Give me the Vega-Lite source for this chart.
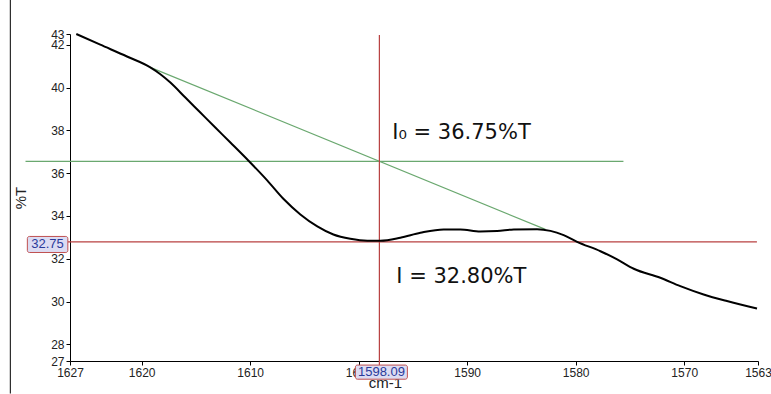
{
  "$schema": "https://vega.github.io/schema/vega-lite/v6.json",
  "width": 688,
  "height": 327,
  "autosize": {"type": "none"},
  "padding": {"left": 70, "top": 34, "right": 13, "bottom": 33},
  "background": "white",
  "config": {"view": {"stroke": null}},
  "encoding": {
    "x": {
      "field": "x", "type": "quantitative",
      "scale": {"domain": [1563.2, 1626.6], "reverse": true, "nice": false, "zero": false},
      "axis": {
        "title": "cm-1", "titleFont": "Liberation Sans", "titleFontSize": 15, "titleFontWeight": "normal",
        "titleColor": "#222", "titleX": 315, "titleY": 14, "titleBaseline": "top",
        "values": [1563.2, 1570, 1580, 1590, 1600, 1610, 1620, 1626.6],
        "format": "d",
        "labelExpr": "datum.value > 1626 ? '1627' : datum.value < 1564 ? '1563' : datum.label",
        "labelFont": "Liberation Sans", "labelFontSize": 12, "labelColor": "#222",
        "domainColor": "#000", "tickColor": "#000", "tickSize": 4, "labelPadding": 2,
        "grid": false, "labelFlush": false, "labelOverlap": false
      }
    },
    "y": {
      "field": "y", "type": "quantitative",
      "scale": {"domain": [27.22, 42.5], "nice": false, "zero": false},
      "axis": {
        "title": "%T", "titleFont": "Liberation Sans", "titleFontSize": 15, "titleFontWeight": "normal",
        "titleColor": "#222", "titlePadding": 22,
        "values": [27.22, 28, 30, 32, 34, 36, 38, 40, 42, 42.5],
        "labelExpr": "datum.value < 27.5 ? '27' : datum.value > 42.4 ? '43' : datum.label",
        "labelFont": "Liberation Sans", "labelFontSize": 12, "labelColor": "#222",
        "domainColor": "#000", "tickColor": "#000", "tickSize": 4, "labelPadding": 2,
        "grid": false, "labelFlush": false, "labelOverlap": false
      }
    }
  },
  "layer": [
    {
      "data": {"values": [{"x": 1632.1, "y": 44.1, "y2": 25.7}]},
      "mark": {"type": "rule", "color": "#000", "strokeWidth": 1},
      "encoding": {"y2": {"field": "y2"}}
    },
    {
      "data": {"values": [{"x": 1630.7, "x2": 1575.6, "y": 36.55}]},
      "mark": {"type": "rule", "color": "#6aa86f", "strokeWidth": 1.2},
      "encoding": {"x2": {"field": "x2"}}
    },
    {
      "data": {"values": [{"x": 1619.2, "y": 40.94, "x2": 1582.79, "y2": 33.37}]},
      "mark": {"type": "rule", "color": "#6aa86f", "strokeWidth": 1.2},
      "encoding": {"x2": {"field": "x2"}, "y2": {"field": "y2"}}
    },
    {
      "data": {"values": [{"x": 1626.8, "x2": 1563.3, "y": 32.79}]},
      "mark": {"type": "rule", "color": "#b84040", "strokeWidth": 1.2},
      "encoding": {"x2": {"field": "x2"}}
    },
    {
      "data": {"values": [{"x": 1598.09, "y": 42.45, "y2": 26.99}]},
      "mark": {"type": "rule", "color": "#b84040", "strokeWidth": 1.2},
      "encoding": {"y2": {"field": "y2"}}
    },
    {
      "data": {"values": [
        {"x": 1626.02, "y": 42.5}, {"x": 1623.81, "y": 42.0}, {"x": 1621.35, "y": 41.45},
        {"x": 1619.2, "y": 40.94}, {"x": 1618.27, "y": 40.62}, {"x": 1617.35, "y": 40.23},
        {"x": 1615.97, "y": 39.53}, {"x": 1614.59, "y": 38.83}, {"x": 1613.21, "y": 38.13},
        {"x": 1611.82, "y": 37.43}, {"x": 1610.17, "y": 36.59}, {"x": 1608.41, "y": 35.65},
        {"x": 1606.94, "y": 34.8}, {"x": 1605.37, "y": 34.07}, {"x": 1603.81, "y": 33.51},
        {"x": 1602.33, "y": 33.13}, {"x": 1600.77, "y": 32.93}, {"x": 1599.2, "y": 32.84},
        {"x": 1598.0, "y": 32.84}, {"x": 1596.16, "y": 32.98}, {"x": 1594.31, "y": 33.21},
        {"x": 1592.17, "y": 33.37}, {"x": 1590.63, "y": 33.37}, {"x": 1588.79, "y": 33.27},
        {"x": 1587.24, "y": 33.29}, {"x": 1585.71, "y": 33.37}, {"x": 1583.56, "y": 33.38},
        {"x": 1582.33, "y": 33.3}, {"x": 1581.11, "y": 33.1}, {"x": 1579.87, "y": 32.79},
        {"x": 1577.72, "y": 32.35}, {"x": 1576.18, "y": 31.97}, {"x": 1574.65, "y": 31.53},
        {"x": 1572.2, "y": 31.11}, {"x": 1570.36, "y": 30.72}, {"x": 1568.21, "y": 30.33},
        {"x": 1566.06, "y": 30.02}, {"x": 1563.29, "y": 29.67}
      ]},
      "mark": {"type": "line", "color": "#000", "strokeWidth": 2, "interpolate": "monotone"}
    },
    {
      "data": {"values": [
        {"x": 1630.53, "x2": 1626.8, "y": 33.04, "y2": 32.29},
        {"x": 1600.3, "x2": 1595.51, "y": 27.03, "y2": 26.37}
      ]},
      "mark": {"type": "rect", "fill": "#dcdcf2", "stroke": "#c05050", "strokeWidth": 1, "cornerRadius": 2},
      "encoding": {"x2": {"field": "x2"}, "y2": {"field": "y2"}}
    },
    {
      "data": {"values": [
        {"x": 1628.67, "y": 32.665, "label": "32.75"},
        {"x": 1597.9, "y": 26.7, "label": "1598.09"}
      ]},
      "mark": {"type": "text", "font": "Liberation Sans", "fontSize": 13, "color": "#2a3a9a", "align": "center", "baseline": "middle"},
      "encoding": {"text": {"field": "label"}}
    },
    {
      "data": {"values": [
        {"x": 1596.9, "y": 37.89, "label": "I₀ = 36.75%T"},
        {"x": 1596.53, "y": 31.13, "label": "I = 32.80%T"}
      ]},
      "mark": {"type": "text", "font": "DejaVu Sans", "fontSize": 21, "color": "#111", "align": "left", "baseline": "middle"},
      "encoding": {"text": {"field": "label"}}
    }
  ]
}
